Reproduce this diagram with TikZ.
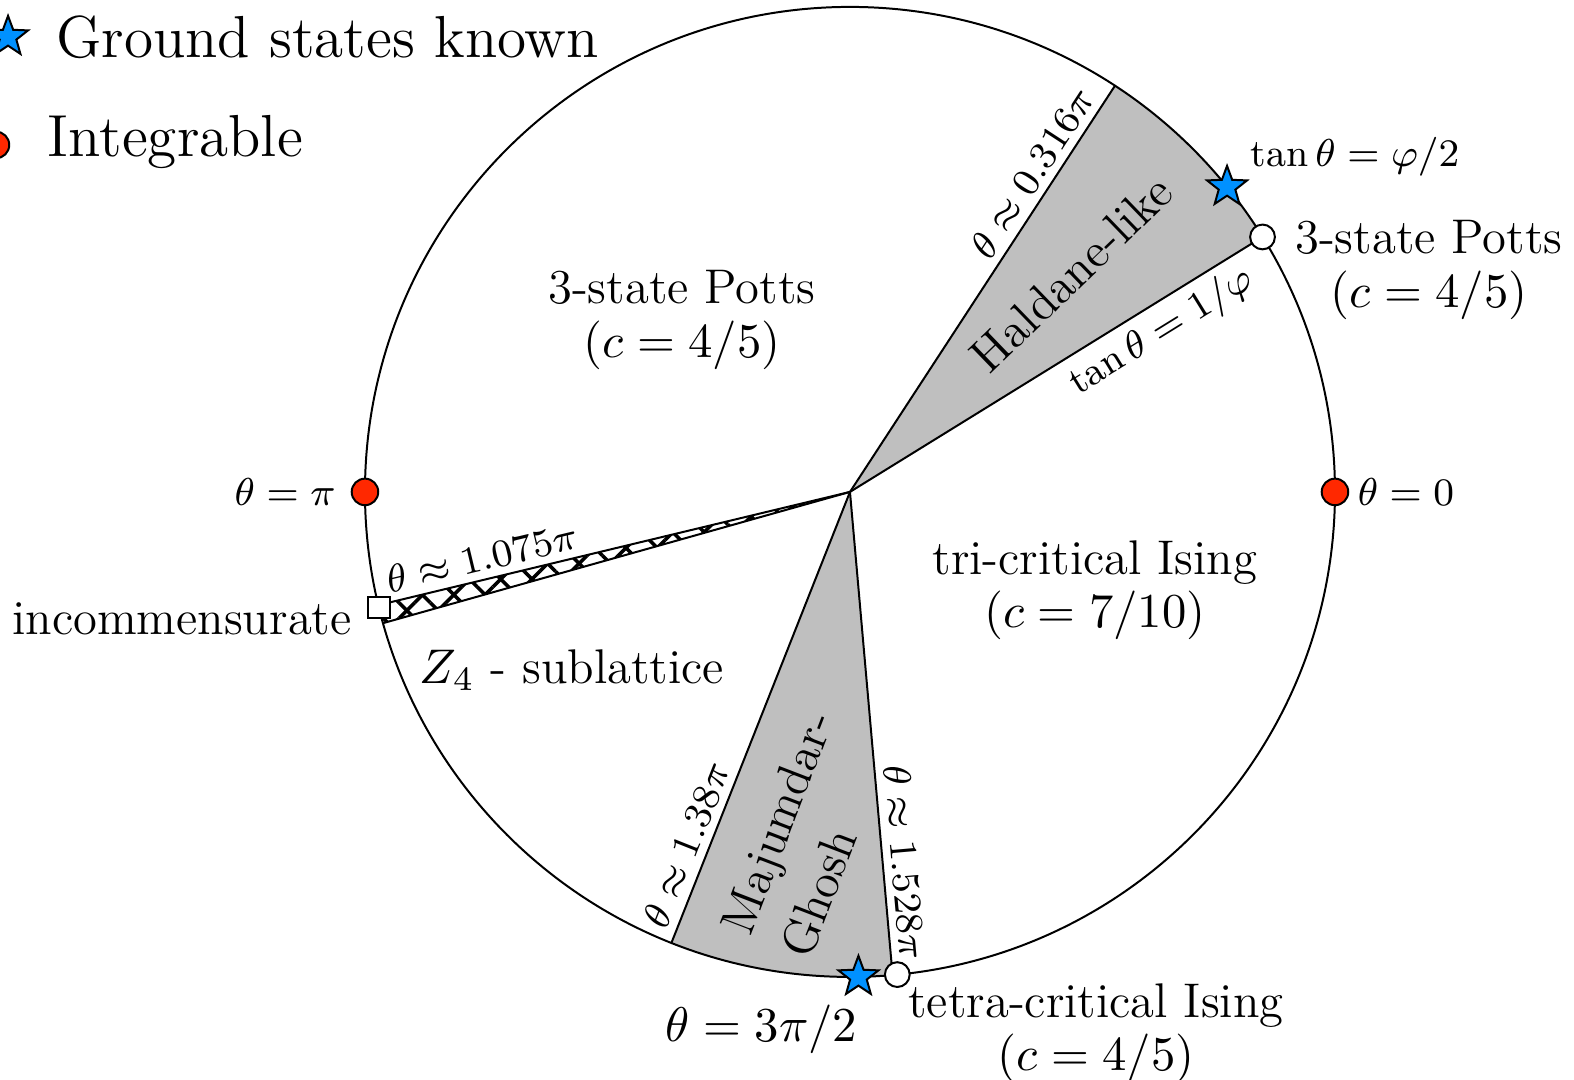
\RequirePackage{fix-cm}
\documentclass[tikz,border=0pt]{standalone}
\usepackage{amsmath,amssymb}
\usepackage{fontspec}
\usepackage{xcolor}
\usepackage{tikz}
\usetikzlibrary{positioning,shapes.geometric,patterns.meta,calc}
\definecolor{azulEstado}{RGB}{0,145,255}
\definecolor{vermelhoInt}{RGB}{255,40,0}
\tikzset{
    fase/.style={
        align=center,
        font=\fontsize{11}{12}\selectfont
    },
    rotulo/.style={font=\fontsize{8.8}{10.5}\selectfont, inner sep=1.7pt},
    legenda/.style={font=\fontsize{13.4}{15}\selectfont, inner sep=0pt},
    estrela/.style={
        star,
        star points=5,
        star point ratio=2.4,
        draw,
        fill=azulEstado,
        minimum size=9.5pt,
        inner sep=0pt
    },
    integravel/.style={circle, draw, fill=vermelhoInt, minimum size=6pt, inner sep=0pt},
    critico/.style={circle, draw, fill=white, minimum size=5.6pt, inner sep=0pt},
    incomens/.style={rectangle, draw, fill=white, minimum size=4.8pt, inner sep=0pt},
    fronteira/.style={line width=0.45pt},
    regiao/.style={fill=gray!50}
}
\def\raio{3.851}

\begin{document}
\begin{tikzpicture}[fronteira]
        \useasboundingbox (-6.749,-4.669) rectangle (5.749,3.906);
        \coordinate (O) at (0,0);
        \coordinate (fiA) at (31.717:\raio);
        \coordinate (fiB) at (56.88:\raio);
        \coordinate (incA) at (193.5:\raio);
        \coordinate (incB) at (195.7:\raio);
        \coordinate (mgA) at (248.4:\raio);
        \coordinate (mgB) at (275.04:\raio);

        % fases sombreadas
        \fill[regiao] (O) -- (fiA) arc[start angle=31.717, end angle=56.88, radius=\raio] -- cycle;
        \fill[regiao] (O) -- (mgA) arc[start angle=248.4, end angle=275.04, radius=\raio] -- cycle;
        \fill[pattern={Lines[angle=45, distance=5pt, line width=0.8pt]}]
            (O) -- (incA) arc[start angle=193.5, end angle=195.7, radius=\raio] -- cycle;
        \fill[pattern={Lines[angle=-45, distance=5pt, line width=0.8pt]}]
            (O) -- (incA) arc[start angle=193.5, end angle=195.7, radius=\raio] -- cycle;

        \draw (O) circle[radius=\raio];
        \draw (O) -- (fiB) node[rotulo, pos=0.757, sloped, above] (rotFiB) {$\theta \approx 0.316\pi$};
        \draw (O) -- (fiA) node[rotulo, pos=0.72, sloped, below] (rotFiA) {$\tan\theta = 1/\varphi$};
        \draw (incA) -- (O) node[rotulo, pos=0.23, sloped, above] (rotInc) {$\theta \approx 1.075\pi$};
        \draw (O) -- (incB);
        \draw (mgA) -- (O) node[rotulo, pos=0.2, sloped, above] (rotMgA) {$\theta \approx 1.38\pi$};
        \draw (O) -- (mgB) node[rotulo, pos=0.77, sloped, above] (rotMgB) {$\theta \approx 1.528\pi$};

        % nomes das fases
        \node[fase] (pottsInt) at (-1.334,1.365) {3-state Potts\\$(c = 4/5)$};
        \node[fase] (triIsing) at (1.945,-0.778) {tri-critical Ising\\$(c = 7/10)$};
        \node[fase] (subRede) at (-2.207,-1.414) {$Z_4$ - sublattice};
        \node[fase, rotate=44] (haldane) at (1.755,1.731) {Haldane-like};
        \node[fase, rotate=69, align=left] (majGhosh) at (-0.341,-2.715) {Majumdar-\\[2.5pt]Ghosh};

        % pontos especiais
        \node[integravel, label={[rotulo]right:$\theta = 0$}] (zero) at (0:\raio) {};
        \node[integravel, label={[rotulo, label distance=1.5pt]left:$\theta = \pi$}] (pi) at (180:\raio) {};
        \node[incomens, label={[font=\fontsize{11}{12}\selectfont, yshift=-2.5pt]left:incommensurate}] (incPt) at (193.8:\raio) {};
        \node[critico] (pottsPt) at (31.717:\raio) {};
        \node[critico] (tetraPt) at (275.6:\raio) {};
        \node[estrela] (estFi) at (38.97:\raio) {};
        \node[estrela] (estMg) at (271:\raio) {};

        \node[fase] (pottsExt) at (4.597,1.762) {3-state Potts\\$(c = 4/5)$};
        \node[rotulo] (tanFi) at (4.010,2.660) {$\tan\theta = \varphi/2$};
        \node[fase] (tetraIsing) at (1.953,-4.300) {tetra-critical Ising\\$(c = 4/5)$};
        \node[fase] (tresPi) at (-0.703,-4.264) {$\theta = 3\pi/2$};

        % legenda
        \node[estrela] (legEst) at (-6.685,3.613) {};
        \node[legenda, anchor=base west] (legEstTxt) at (-6.312,3.446) {Ground states known};
        \node[integravel] (legInt) at (-6.781,2.755) {};
        \node[legenda, anchor=base west] (legIntTxt) at (-6.376,2.660) {Integrable};
    \end{tikzpicture}
\end{document}
